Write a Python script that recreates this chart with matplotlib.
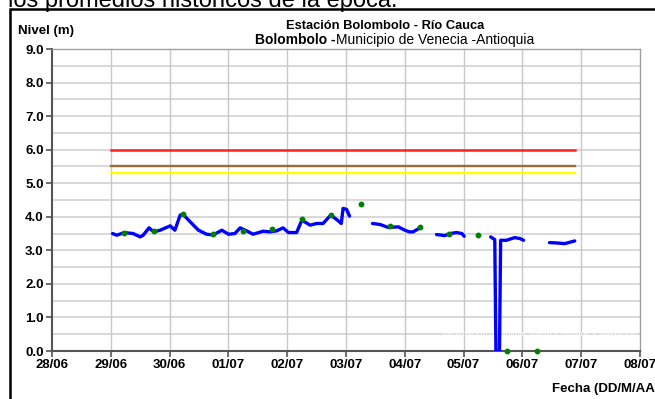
import numpy as np
import matplotlib
matplotlib.use("Agg")
import matplotlib.pyplot as plt
from matplotlib.patches import Rectangle

plt.rcParams['font.family'] = ['Liberation Sans', 'DejaVu Sans']

# days counted from 28/06 00:00
day_labels = ['28/06', '29/06', '30/06', '01/07', '02/07', '03/07',
              '04/07', '05/07', '06/07', '07/07', '08/07']

# nivel horario (tramos separados por NaN)
nivel_x = [1.03, 1.10, 1.23, 1.38, 1.50, 1.55, 1.65, 1.73, 1.84, 2.01, 2.09, 2.18, 2.23,
           2.35, 2.49, 2.63, 2.74, 2.89, 3.00, 3.11, 3.20, 3.31, 3.42, 3.59, 3.71, 3.82,
           3.93, 4.02, 4.16, 4.25, 4.39, 4.50, 4.61, 4.74, 4.84, 4.92, 4.95, 5.01, 5.06,
           np.nan,
           5.45, 5.58, 5.72, 5.89, 6.00, 6.08, 6.14, 6.26,
           np.nan,
           6.54, 6.68, 6.77, 6.88, 6.97, 7.01,
           np.nan,
           7.46, 7.53, 7.55, 7.61, 7.63, 7.73, 7.87, 7.96, 8.02,
           np.nan,
           8.46, 8.58, 8.72, 8.89]
nivel_y = [3.50, 3.45, 3.53, 3.50, 3.40, 3.45, 3.67, 3.55, 3.60, 3.73, 3.60, 4.05, 4.07,
           3.85, 3.60, 3.48, 3.46, 3.60, 3.48, 3.50, 3.67, 3.58, 3.48, 3.57, 3.55, 3.58,
           3.67, 3.53, 3.53, 3.90, 3.75, 3.80, 3.80, 4.05, 3.92, 3.80, 4.25, 4.22, 4.02,
           np.nan,
           3.80, 3.77, 3.68, 3.70, 3.60, 3.55, 3.55, 3.67,
           np.nan,
           3.47, 3.44, 3.50, 3.53, 3.50, 3.42,
           np.nan,
           3.40, 3.32, 0.0, 0.0, 3.30, 3.30, 3.38, 3.35, 3.30,
           np.nan,
           3.23, 3.22, 3.20, 3.28]

# lecturas de mira
mira_x = [1.23, 1.73, 2.23, 2.74, 3.24, 3.74, 4.25, 4.74, 5.25, 5.75, 6.25, 6.75,
          7.24, 7.74, 8.25]
mira_y = [3.53, 3.58, 4.07, 3.50, 3.57, 3.63, 3.92, 4.05, 4.37, 3.73, 3.69, 3.49,
          3.47, 0.0, 0.0]

# umbrales de alerta
umbral_x = [1.0, 8.9]
alerta_roja = 6.0
alerta_naranja = 5.5
alerta_amarilla = 5.3

W, H = 655, 399
fig = plt.figure(figsize=(W / 100, H / 100), dpi=100)
fig.patch.set_facecolor('white')

# marco negro
fig.patches.append(Rectangle((10 / W, -0.05), 1.0, 1 - 9 / H + 0.05,
                             transform=fig.transFigure, fill=False,
                             edgecolor='black', linewidth=1.8))
fig.text(8 / W, 1 - 7 / H, 'los promedios históricos de la época.', fontsize=17,
         va='baseline', ha='left')

ax = fig.add_axes([52 / W, 1 - 351 / H, (640 - 52) / W, (351 - 49) / H])
ax.set_xlim(0, 10)
ax.set_ylim(0, 9)

for yv in np.arange(0.5, 9.01, 0.5):
    ax.axhline(yv, color='#d6d6d6', lw=1.3, zorder=0)
for xv in range(1, 10):
    ax.axvline(xv, color='#c8c8c8', lw=1.0, zorder=0)

ax.plot(umbral_x, [alerta_roja] * 2, color='#ff2020', lw=1.8, zorder=2)
ax.plot(umbral_x, [alerta_naranja] * 2, color='#9c6b3c', lw=1.7, zorder=2)
ax.plot(umbral_x, [alerta_amarilla] * 2, color='#ffff00', lw=1.7, zorder=2)

ax.plot(nivel_x, nivel_y, color='#0000ff', lw=2.4, solid_joinstyle='round',
        solid_capstyle='round', zorder=3)
ax.plot(mira_x, mira_y, 'o', color='#008000', ms=3.2, zorder=4, clip_on=False)

ax.text(9.95, 0.5, 'Información preliminar sujeta a revisión y validación', color='white',
        fontsize=6, ha='right', va='center', zorder=1)

ax.set_xticks(range(11))
ax.set_xticklabels(day_labels)
ax.set_yticks(range(10))
ax.set_yticklabels(['%.1f' % v for v in range(10)])
for lab in ax.get_xticklabels() + ax.get_yticklabels():
    lab.set_fontweight('bold')
    lab.set_fontsize(9.5)
ax.tick_params(axis='both', direction='out', length=4, width=1.2, color='#555555', pad=2)

for s in ['left', 'bottom']:
    ax.spines[s].set_color('#555555')
    ax.spines[s].set_linewidth(1.5)
for s in ['top', 'right']:
    ax.spines[s].set_color('#a0a0a0')
    ax.spines[s].set_linewidth(1.0)

fig.text(18 / W, 1 - 31 / H, 'Nivel (m)', fontsize=9.5, fontweight='bold', va='center')
fig.text(385 / W, 1 - 26 / H, 'Estación Bolombolo - Río Cauca', fontsize=9.3,
         fontweight='bold', ha='center', va='center')
t1 = fig.text(255 / W, 1 - 40 / H, 'Bolombolo -', fontsize=10, fontweight='bold',
              ha='left', va='center')
fig.canvas.draw()
bb = t1.get_window_extent()
fig.text(bb.x1 / W, 1 - 40 / H, 'Municipio de Venecia -Antioquia', fontsize=10,
         ha='left', va='center')
fig.text(552 / W, 1 - 389 / H, 'Fecha (DD/M/AA)', fontsize=9.5, fontweight='bold',
         ha='left', va='center')

fig.savefig('out.png', dpi=100)
